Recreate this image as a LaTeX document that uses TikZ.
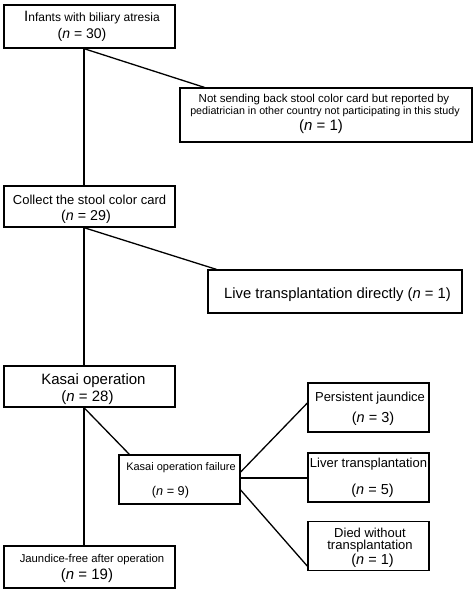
\documentclass[tikz,border=0pt]{standalone}
\usepackage{fontspec}
\setmainfont{Liberation Sans}
\usetikzlibrary{calc}
\newcommand{\fs}[1]{\fontsize{#1}{#1}\selectfont}
\begin{document}
\begin{tikzpicture}[x=1pt,y=-1pt,
  box/.style={draw, line width=1.3pt, inner sep=0pt, minimum width=#1},
  conn/.style={line width=1.3pt},
  txt/.style={inner sep=0pt, anchor=center}]
\useasboundingbox[fill=white] (0,0) rectangle (474,592);
% boxes
\node[box=171pt, minimum height=43pt] (b1) at (89.5,26.5) {};
\node[box=292pt, minimum height=54pt] (b2) at (326,115) {};
\node[box=171pt, minimum height=41pt] (b3) at (89.5,206.5) {};
\node[box=254pt, minimum height=43pt] (b4) at (335,291.5) {};
\node[box=171pt, minimum height=41pt] (b5) at (89.5,386.5) {};
\node[box=121pt, minimum height=49pt] (b6) at (179.5,479.5) {};
\node[box=121pt, minimum height=49pt] (b7) at (368.5,407.5) {};
\node[box=121pt, minimum height=49pt] (b8) at (368.5,477.5) {};
\node[box=121pt, minimum height=49pt] (b9) at (368.5,546) {};
\node[box=171pt, minimum height=42pt] (b10) at (89.5,567) {};
% texts
\node[txt, font=\fs{12}] (t1a) at (92,18) {{\fs{15}I}nfants with biliary atresia};
\node[txt, font=\fs{14}] (t1b) at (82,35) {(\textit{n} = 30)};
\node[txt, font=\fs{11.5}] (t2a) at (324,100) {Not sending back stool color card but reported by};
\node[txt, font=\fs{10.7}] (t2b) at (325,112) {pediatrician in other country not participating in this study};
\node[txt, font=\fs{15}] (t2c) at (321,127) {(\textit{n} = 1)};
\node[txt, font=\fs{13}] (t3a) at (89.5,200) {Collect the stool color card};
\node[txt, font=\fs{14.3}] (t3b) at (86,217) {(\textit{n} = 29)};
\node[txt, font=\fs{14.8}] (t4) at (337.5,295) {Live transplantation directly (\textit{n} = 1)};
\node[txt, font=\fs{15}] (t5a) at (93.5,381) {Kasai operation};
\node[txt, font=\fs{15}] (t5b) at (87.5,398) {(\textit{n} = 28)};
\node[txt, font=\fs{11}] (t6a) at (181,468) {Kasai operation failure};
\node[txt, font=\fs{12.7}] (t6b) at (170.5,492) {(\textit{n} = 9)};
\node[txt, font=\fs{13}] (t7a) at (370,398) {Persistent jaundice};
\node[txt, font=\fs{14.5}] (t7b) at (373,419) {(\textit{n} = 3)};
\node[txt, font=\fs{13}] (t8a) at (368.5,464) {Liver transplantation};
\node[txt, font=\fs{14.5}] (t8b) at (372.5,491) {(\textit{n} = 5)};
\node[txt, font=\fs{13}] (t9a) at (370,533) {Died without};
\node[txt, font=\fs{13}] (t9b) at (370,546) {transplantation};
\node[txt, font=\fs{14.5}] (t9c) at (372.5,561) {(\textit{n} = 1)};
\node[txt, font=\fs{11.3}] (t10a) at (92,560) {Jaundice-free after operation};
\node[txt, font=\fs{15}] (t10b) at (87,576) {(\textit{n} = 19)};
% connectors
\coordinate (v) at (84,0);
\draw[conn] (b1.south -| v) -- (b3.north -| v);
\draw[conn] (b1.south -| v) -- ($(b2.north west)+(25,0)$);
\draw[conn] (b3.south -| v) -- (b5.north -| v);
\draw[conn] (b3.south -| v) -- ($(b4.north west)+(9,0)$);
\draw[conn] (b5.south -| v) -- (b10.north -| v);
\draw[conn] (b5.south -| v) -- ($(b6.north west)+(11,0)$);
\draw[conn] ($(b6.east)+(0,-7.5)$) -- ($(b7.west)+(0,-4.5)$);
\draw[conn] ($(b6.east)+(0,-1.5)$) -- ($(b6.east -| b8.west)+(0,-1.5)$);
\draw[conn] ($(b6.east)+(0,10.5)$) -- ($(b9.south west)+(0,-5)$);
\end{tikzpicture}
\end{document}
